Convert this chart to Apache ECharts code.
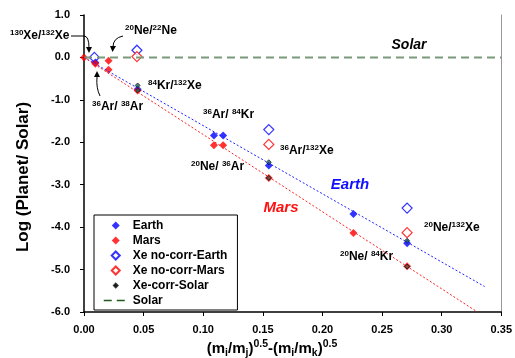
<!DOCTYPE html>
<html><head><meta charset="utf-8">
<script src="https://cdn.jsdelivr.net/npm/echarts@6/dist/echarts.min.js"></script>
<style>html,body{margin:0;padding:0;background:#fff}#c{width:515px;height:358px}</style>
</head><body><div id="c"></div>
<script>
var earthX = [0.0095, 0.045, 0.109, 0.1167, 0.155, 0.226, 0.271];
var earthY = [-0.12, -0.75, -1.84, -1.84, -2.55, -3.69, -4.38];
var marsX = [0.0, 0.0095, 0.0206, 0.0206, 0.045, 0.109, 0.1167, 0.155, 0.226, 0.271];
var marsY = [0.0, -0.15, -0.08, -0.29, -0.78, -2.07, -2.07, -2.84, -4.14, -4.92];
var noCorrEarthX = [0.0087, 0.0444, 0.155, 0.271];
var noCorrEarthY = [0.0, 0.17, -1.70, -3.55];
var noCorrMarsX = [0.0444, 0.155, 0.271];
var noCorrMarsY = [0.02, -2.05, -4.13];
var corrSolarX = [0.045, 0.045, 0.155, 0.155, 0.271, 0.271];
var corrSolarY = [-0.66, -0.78, -2.47, -2.84, -4.32, -4.93];
var solarX = [0.0, 0.35];
var solarY = [0.0, 0.0];
var earthFitX = [0.0, 0.336];
var earthFitY = [0.0, -5.40];
var marsFitX = [0.0, 0.33];
var marsFitY = [0.0, -6.0];
var xTicks = [0, 0.05, 0.10, 0.15, 0.20, 0.25, 0.30, 0.35];
var yTicks = [1, 0, -1, -2, -3, -4, -5, -6];

function pairs(xs, ys){ return xs.map(function(x,i){return [x, ys[i]];}); }
var FF = '"Liberation Sans", Arial, sans-serif';
var richLbl = {
  b: {fontFamily: FF, fontWeight: 'bold', fontSize: 12, color: '#000', lineHeight: 15},
  s: {fontFamily: FF, fontWeight: 'bold', fontSize: 8, color: '#000', lineHeight: 8, verticalAlign: 'top'}
};
function lbl(text, x, y){
  return {type: 'text', x: x, y: y, z: 50, style: {text: text, rich: richLbl, align: 'left', verticalAlign: 'middle'}};
}
function curve(x1, y1, cx, cy, x2, y2){
  return {type: 'bezierCurve', z: 50, shape: {x1: x1, y1: y1, cpx1: cx, cpy1: cy, x2: x2, y2: y2},
    style: {fill: null, stroke: '#000', lineWidth: 1}};
}
var DIAMOND = 'path://M0,-1L1,0L0,1L-1,0Z';
var SMALL_DIAMOND = 'path://M0,-0.45L0.45,0L0,0.45L-0.45,0Z M-1,-1L-1,-1 M1,1L1,1';

var chart = echarts.init(document.getElementById('c'), null, {renderer: 'canvas'});
chart.setOption({
  animation: false,
  backgroundColor: '#fff',
  grid: {left: 84, right: 10, top: 15, bottom: 46},
  xAxis: {
    type: 'value', min: xTicks[0], max: xTicks[xTicks.length-1], interval: 0.05,
    axisLine: {show: true, onZero: false, lineStyle: {color: '#000', width: 1.5}},
    axisTick: {show: true, inside: false, length: 4, lineStyle: {color: '#000', width: 1}},
    axisLabel: {margin: 12, color: '#000', fontFamily: FF, fontWeight: 'bold', fontSize: 11,
      formatter: function(v){return v.toFixed(2);}},
    splitLine: {show: false}
  },
  yAxis: [{
    type: 'value', min: yTicks[yTicks.length-1], max: yTicks[0], interval: 1,
    axisLine: {show: true, onZero: false, lineStyle: {color: '#000', width: 1.5}},
    axisTick: {show: true, inside: false, length: 4, lineStyle: {color: '#000', width: 1}},
    axisLabel: {margin: 14, color: '#000', fontFamily: FF, fontWeight: 'bold', fontSize: 11,
      formatter: function(v){return v.toFixed(1);}},
    splitLine: {show: false}
  }, {
    type: 'value', min: -6, max: 1, position: 'right',
    axisLine: {show: true, onZero: false, lineStyle: {color: '#999', width: 1}},
    axisTick: {show: false}, axisLabel: {show: false}, splitLine: {show: false}
  }],
  legend: {
    orient: 'vertical', left: 94, top: 215,
    padding: [4, 10, 3, 9], itemGap: 2, itemWidth: 24, itemHeight: 8,
    borderColor: '#000', borderWidth: 1, backgroundColor: '#fff', symbolKeepAspect: true,
    textStyle: {fontFamily: FF, fontWeight: 'bold', fontSize: 12, color: '#000', lineHeight: 13},
    data: [
      {name: 'Earth', icon: DIAMOND},
      {name: 'Mars', icon: DIAMOND},
      {name: 'Xe no-corr-Earth', icon: DIAMOND},
      {name: 'Xe no-corr-Mars', icon: DIAMOND},
      {name: 'Xe-corr-Solar', icon: SMALL_DIAMOND},
      {name: 'Solar', itemStyle: {opacity: 0}, lineStyle: {color: '#1e5a1e', width: 1.5, type: [8, 5]}}
    ]
  },
  graphic: [
    {type: 'text', x: 272, y: 349, z: 50, style: {
      text: '{b|(m}{sb|i}{b|/m}{sb|j}{b|)}{sp|0.5}{b|-(m}{sb|i}{b|/m}{sb|k}{b|)}{sp|0.5}',
      align: 'center', verticalAlign: 'middle',
      rich: {
        b: {fontFamily: FF, fontWeight: 'bold', fontSize: 15, color: '#000', lineHeight: 20},
        sp: {fontFamily: FF, fontWeight: 'bold', fontSize: 10.5, color: '#000', lineHeight: 10, verticalAlign: 'top'},
        sb: {fontFamily: FF, fontWeight: 'bold', fontSize: 10.5, color: '#000', lineHeight: 10, verticalAlign: 'bottom'}
      }}},
    {type: 'text', x: 23, y: 177, rotation: Math.PI/2, z: 50, style: {
      text: 'Log (Planet/ Solar)', align: 'center', verticalAlign: 'middle',
      fontFamily: FF, fontWeight: 'bold', fontSize: 17, fill: '#000'}},
    {type: 'text', x: 409, y: 45, z: 50, style: {text: 'Solar', align: 'center', verticalAlign: 'middle',
      fontFamily: FF, fontWeight: 'bold', fontStyle: 'italic', fontSize: 14, fill: '#000'}},
    {type: 'text', x: 350, y: 185, z: 50, style: {text: 'Earth', align: 'center', verticalAlign: 'middle',
      fontFamily: FF, fontWeight: 'bold', fontStyle: 'italic', fontSize: 15, fill: '#1010ff'}},
    {type: 'text', x: 281, y: 208, z: 50, style: {text: 'Mars', align: 'center', verticalAlign: 'middle',
      fontFamily: FF, fontWeight: 'bold', fontStyle: 'italic', fontSize: 15, fill: '#ff1010'}},
    lbl('{s|130}{b|Xe/}{s|132}{b|Xe}', 10, 36),
    lbl('{s|20}{b|Ne/}{s|22}{b|Ne}', 125, 31),
    lbl('{s|84}{b|Kr/}{s|132}{b|Xe}', 148, 86),
    lbl('{s|36}{b|Ar/ }{s|38}{b|Ar}', 92, 107),
    lbl('{s|36}{b|Ar/ }{s|84}{b|Kr}', 203, 115),
    lbl('{s|36}{b|Ar/}{s|132}{b|Xe}', 280, 151),
    lbl('{s|20}{b|Ne/ }{s|36}{b|Ar}', 191, 167),
    lbl('{s|20}{b|Ne/}{s|132}{b|Xe}', 424, 228),
    lbl('{s|20}{b|Ne/ }{s|84}{b|Kr}', 340, 257),
    {type: 'line', z: 50, shape: {x1: 71, y1: 36, x2: 84, y2: 36}, style: {stroke: '#000', lineWidth: 1}},
    curve(84, 36, 89, 36, 89, 48),
    {type: 'polygon', z: 50, shape: {points: [[86, 47], [92, 47], [89, 53]]}, style: {fill: '#000'}},
    curve(123, 36, 113, 38, 113, 47),
    {type: 'polygon', z: 50, shape: {points: [[110, 46], [116, 46], [112.5, 52]]}, style: {fill: '#000'}},
    curve(100, 96, 96, 88, 97, 77),
    {type: 'polygon', z: 50, shape: {points: [[94, 77], [100, 77], [97, 71]]}, style: {fill: '#000'}}
  ],
  series: [
    {name: 'Solar', type: 'line', data: pairs(solarX, solarY), symbol: 'none',
      lineStyle: {color: '#7a9a7a', width: 2, type: [8, 5]}, itemStyle: {color: '#1e5a1e'}},
    {name: 'earthFit', type: 'line', data: pairs(earthFitX, earthFitY), symbol: 'none',
      lineStyle: {color: '#2020ff', width: 1, type: [2, 2]}},
    {name: 'marsFit', type: 'line', data: pairs(marsFitX, marsFitY), symbol: 'none',
      lineStyle: {color: '#ff2020', width: 1, type: [2, 2]}},
    {name: 'Xe no-corr-Earth', type: 'scatter', data: pairs(noCorrEarthX, noCorrEarthY), symbol: 'diamond', symbolSize: 10,
      itemStyle: {color: '#fff', borderColor: '#0000ff', borderWidth: 1.2}},
    {name: 'Xe no-corr-Mars', type: 'scatter', data: pairs(noCorrMarsX, noCorrMarsY), symbol: 'diamond', symbolSize: 10,
      itemStyle: {color: '#fff', borderColor: '#ff0000', borderWidth: 1.2}},
    {name: 'Earth', type: 'scatter', data: pairs(earthX, earthY), symbol: 'diamond', symbolSize: 8,
      itemStyle: {color: '#0000ff'}},
    {name: 'Mars', type: 'scatter', data: pairs(marsX, marsY), symbol: 'diamond', symbolSize: 8,
      itemStyle: {color: '#ff0000'}},
    {name: 'Xe-corr-Solar', type: 'scatter', data: pairs(corrSolarX, corrSolarY), symbol: 'diamond', symbolSize: 5,
      itemStyle: {color: '#1a6a5a', borderColor: '#000', borderWidth: 0.8}}
  ]
});
</script></body></html>
